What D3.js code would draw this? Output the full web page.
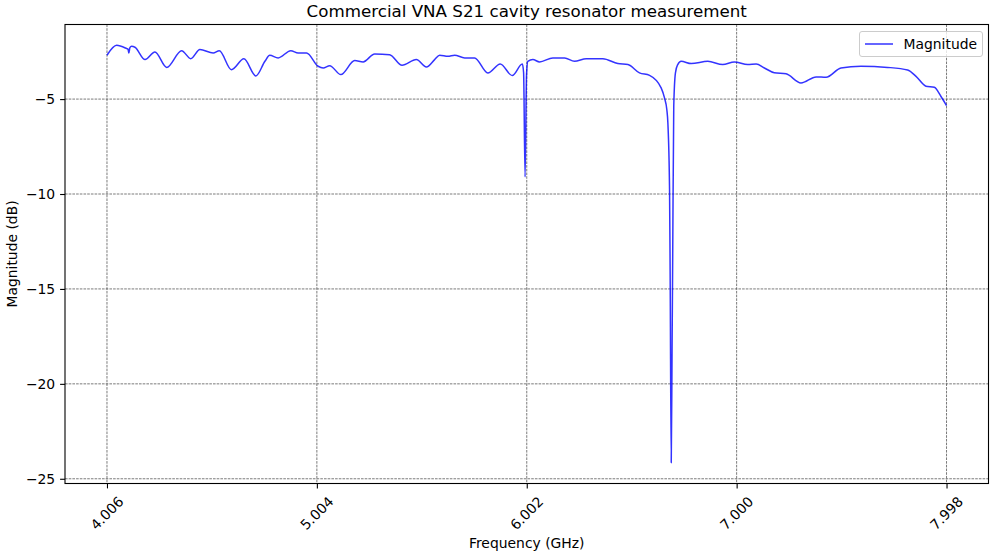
<!DOCTYPE html>
<html>
<head>
<meta charset="utf-8">
<script src="https://cdn.jsdelivr.net/npm/d3@7"></script>
<style>
  html, body { margin: 0; padding: 0; background: #fff; }
  svg { display: block; font-family: "DejaVu Sans", sans-serif; }
</style>
</head>
<body>
<svg id="chart" width="990" height="553"></svg>
<script>
// Measured S21 transmission of the cavity (frequency in GHz, magnitude in dB)
const frequencyGHz = [
  4.006, 4.052, 4.100, 4.106, 4.110, 4.115, 4.123, 4.139, 4.187, 4.234,
  4.290, 4.361, 4.404, 4.448, 4.511, 4.540, 4.598, 4.657, 4.714, 4.757,
  4.780, 4.820, 4.880, 4.915, 4.955, 5.010, 5.034, 5.065, 5.118, 5.184,
  5.224, 5.279, 5.350, 5.409, 5.477, 5.525, 5.564, 5.588, 5.627, 5.659,
  5.707, 5.754, 5.817, 5.876, 5.933, 5.981, 5.987, 5.994, 6.001, 6.007,
  6.031, 6.063, 6.126, 6.182, 6.229, 6.285, 6.340, 6.364, 6.435, 6.483,
  6.538, 6.586, 6.641, 6.657, 6.668, 6.673, 6.681, 6.684, 6.689, 6.693,
  6.696, 6.701, 6.709, 6.720, 6.736, 6.784, 6.863, 6.934, 6.989, 7.053,
  7.093, 7.132, 7.179, 7.235, 7.306, 7.378, 7.425, 7.496, 7.591, 7.718,
  7.813, 7.853, 7.900, 7.940, 7.971, 7.998
];
const magnitudeDB = [
  -2.69, -2.17, -2.34, -2.37, -2.57, -2.29, -2.22, -2.27, -2.92, -2.52,
  -3.33, -2.45, -2.87, -2.39, -2.57, -2.45, -3.45, -2.88, -3.78, -3.01,
  -2.69, -2.83, -2.45, -2.57, -2.57, -3.27, -3.36, -3.24, -3.71, -2.97,
  -3.04, -2.62, -2.66, -3.22, -2.92, -3.31, -2.92, -2.69, -2.75, -2.69,
  -2.83, -2.83, -3.62, -3.15, -3.76, -3.15, -3.60, -9.10, -3.70, -3.01,
  -2.92, -3.04, -2.83, -2.83, -3.01, -2.87, -2.88, -2.87, -3.13, -3.18,
  -3.62, -3.75, -4.41, -4.94, -5.55, -6.25, -9.76, -14.50, -24.15, -18.20,
  -13.27, -5.38, -3.62, -3.18, -3.01, -3.13, -3.01, -3.18, -3.04, -3.18,
  -3.15, -3.36, -3.61, -3.67, -4.15, -3.83, -3.85, -3.36, -3.27, -3.33,
  -3.47, -3.80, -4.32, -4.38, -4.85, -5.34
];
const xTickValues = [4.006, 5.004, 6.002, 7.000, 7.998];
const xTickLabels = ["4.006", "5.004", "6.002", "7.000", "7.998"];
const yTickValues = [-5, -10, -15, -20, -25];
const yTickLabels = ["\u22125", "\u221210", "\u221215", "\u221220", "\u221225"];

const points = frequencyGHz.map((f, i) => ({ f, m: magnitudeDB[i] }));

const svg = d3.select("#chart");
const margin = { left: 65, right: 1.5, top: 24.5, bottom: 69.5 };
const W = 990, H = 553;
const x0 = margin.left, x1 = W - margin.right;
const y0 = margin.top, y1 = H - margin.bottom;

// Autoscale with 5% padding on each side of the data extent
function padded(ext) {
  const d = (ext[1] - ext[0]) * 0.05;
  return [ext[0] - d, ext[1] + d];
}
const x = d3.scaleLinear().domain(padded(d3.extent(frequencyGHz))).range([x0, x1]);
const y = d3.scaleLinear().domain(padded(d3.extent(magnitudeDB))).range([y1, y0]);

const fontPx = 13.9;

// Grid lines
const grid = svg.append("g").attr("stroke", "#222").attr("stroke-width", 0.7)
  .attr("stroke-dasharray", "2.6,1.1").attr("opacity", 0.85);
xTickValues.forEach(v => {
  grid.append("line").attr("x1", x(v)).attr("x2", x(v)).attr("y1", y0).attr("y2", y1);
});
yTickValues.forEach(v => {
  grid.append("line").attr("x1", x0).attr("x2", x1).attr("y1", y(v)).attr("y2", y(v));
});

// Data line
const line = d3.line().x(d => x(d.f)).y(d => y(d.m)).curve(d3.curveMonotoneX);
svg.append("path").datum(points)
  .attr("d", line)
  .attr("fill", "none")
  .attr("stroke", "#0000ff")
  .attr("stroke-opacity", 0.8)
  .attr("stroke-width", 1.5)
  .attr("stroke-linejoin", "round");

// Axes using d3 axis generators
const xAxis = d3.axisBottom(x).tickValues(xTickValues)
  .tickFormat((d, i) => xTickLabels[i]).tickSizeOuter(0).tickSize(4.9).tickPadding(4.9);
const gx = svg.append("g").attr("transform", `translate(0,${y1})`).call(xAxis);
gx.select(".domain").remove();
gx.selectAll(".tick line").attr("stroke", "#000").attr("stroke-width", 1.1);
gx.selectAll(".tick text").remove();

const yAxis = d3.axisLeft(y).tickValues(yTickValues)
  .tickFormat((d, i) => yTickLabels[i]).tickSizeOuter(0).tickSize(4.9).tickPadding(4.9);
const gy = svg.append("g").attr("transform", `translate(${x0},0)`).call(yAxis);
gy.select(".domain").remove();
gy.selectAll(".tick line").attr("stroke", "#000").attr("stroke-width", 1.1);
gy.selectAll(".tick text").attr("font-size", fontPx).attr("fill", "#000")
  .attr("font-family", "DejaVu Sans").attr("dy", "0.35em");

// Rotated x tick labels, bounding box centred under each tick
const labelTop = y1 + 4.9 + 4.9;
xTickValues.forEach((v, i) => {
  const t = svg.append("text")
    .attr("font-size", fontPx).attr("font-family", "DejaVu Sans")
    .attr("text-anchor", "middle").attr("dominant-baseline", "central")
    .text(xTickLabels[i]);
  const w = t.node().getComputedTextLength();
  const h = fontPx * 1.16;
  const bb = (w + h) * Math.SQRT1_2;
  const cx = x(v), cy = labelTop + bb / 2;
  t.attr("x", cx).attr("y", cy).attr("transform", `rotate(-45,${cx},${cy})`);
});

// Frame
svg.append("rect").attr("x", x0).attr("y", y0).attr("width", x1 - x0).attr("height", y1 - y0)
  .attr("fill", "none").attr("stroke", "#000").attr("stroke-width", 1.1);

// Title and axis labels
svg.append("text").attr("x", (x0 + x1) / 2).attr("y", 17)
  .attr("text-anchor", "middle").attr("font-size", 16.7)
  .text("Commercial VNA S21 cavity resonator measurement");
svg.append("text").attr("x", (x0 + x1) / 2).attr("y", 548)
  .attr("text-anchor", "middle").attr("font-size", fontPx)
  .text("Frequency (GHz)");
svg.append("text").attr("transform", `translate(17,${(y0 + y1) / 2}) rotate(-90)`)
  .attr("text-anchor", "middle").attr("font-size", fontPx)
  .text("Magnitude (dB)");

// Legend
const lg = svg.append("g");
lg.append("rect").attr("x", 859.5).attr("y", 31.5).attr("width", 123).attr("height", 25)
  .attr("rx", 2.5).attr("fill", "#fff").attr("fill-opacity", 0.8)
  .attr("stroke", "#ccc").attr("stroke-width", 1);
lg.append("line").attr("x1", 865).attr("x2", 893).attr("y1", 44).attr("y2", 44)
  .attr("stroke", "#0000ff").attr("stroke-opacity", 0.8).attr("stroke-width", 1.5);
lg.append("text").attr("x", 903.5).attr("y", 44).attr("dy", "0.35em")
  .attr("font-size", fontPx).text("Magnitude");
</script>
</body>
</html>
